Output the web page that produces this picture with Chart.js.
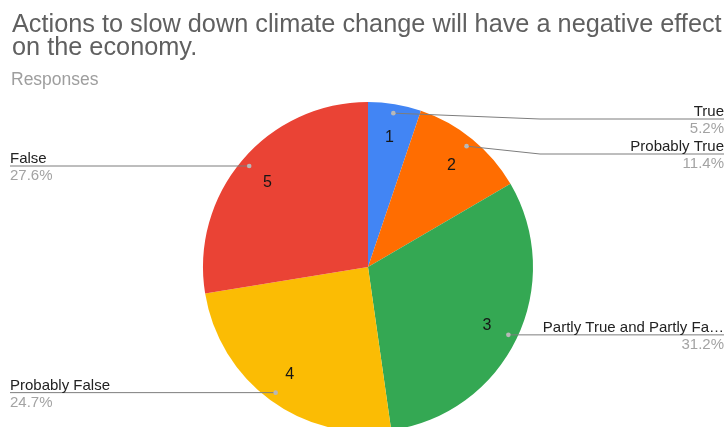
<!DOCTYPE html>
<html>
<head>
<meta charset="utf-8">
<title>Actions to slow down climate change will have a negative effect on the economy.</title>
<script src="https://cdn.jsdelivr.net/npm/chart.js@4.4.1/dist/chart.umd.min.js"></script>
<style>
  html, body { margin: 0; padding: 0; background: #ffffff; overflow: hidden; }
  #wrap { position: relative; width: 728px; height: 440px; }
</style>
</head>
<body>
<div id="wrap"><canvas id="pie" width="728" height="440"></canvas></div>
<script>
// Survey answers, in slice order (clockwise from 12 o'clock)
const categories = ['True', 'Probably True', 'Partly True and Partly False', 'Probably False', 'False'];
const sliceNumbers = ['1', '2', '3', '4', '5'];
const responses = [5.2, 11.4, 31.2, 24.7, 27.6];
const sliceColors = ['#4285f4', '#ff6d01', '#34a853', '#fbbc04', '#ea4335'];
const titleLines = ['Actions to slow down climate change will have a negative effect', 'on the economy.'];
const subtitleText = 'Responses';

const FONT = '"Liberation Sans", Arial, Helvetica, sans-serif';

// Fits a label into a given width, adding an ellipsis when it is too long
function fitText(ctx, text, maxWidth) {
  if (ctx.measureText(text).width <= maxWidth) return text;
  let s = text;
  while (s.length > 1 && ctx.measureText(s + '\u2026').width > maxWidth) s = s.slice(0, -1);
  return s.trimEnd() + '\u2026';
}

const annotatePie = {
  id: 'annotatePie',
  afterDraw(chart) {
    const ctx = chart.ctx;
    const meta = chart.getDatasetMeta(0);
    const area = chart.chartArea;
    const W = chart.width;

    // Heading
    ctx.save();
    ctx.textBaseline = 'alphabetic';
    ctx.textAlign = 'left';
    ctx.fillStyle = '#606060';
    ctx.font = '25.3px ' + FONT;
    ctx.fillText(titleLines[0], 12, 32);
    ctx.fillText(titleLines[1], 12, 55);
    ctx.fillStyle = '#9e9e9e';
    ctx.font = '17.5px ' + FONT;
    ctx.fillText(subtitleText, 11, 85);
    ctx.restore();

    // Slice numbers, anchor dots and callouts
    const items = meta.data.map((arc, i) => {
      const p = arc.getProps(['x', 'y', 'startAngle', 'endAngle', 'outerRadius'], true);
      const mid = (p.startAngle + p.endAngle) / 2;
      return {
        i, cx: p.x, cy: p.y, R: p.outerRadius, mid,
        numX: p.x + Math.cos(mid) * p.outerRadius * 0.8,
        numY: p.y + Math.sin(mid) * p.outerRadius * 0.8,
        dotX: p.x + Math.cos(mid) * p.outerRadius * 0.945,
        dotY: p.y + Math.sin(mid) * p.outerRadius * 0.945,
        right: Math.cos(mid) >= 0
      };
    });

    ctx.save();
    ctx.font = '16px ' + FONT;
    ctx.fillStyle = '#161616';
    ctx.textAlign = 'center';
    ctx.textBaseline = 'middle';
    items.forEach(it => ctx.fillText(sliceNumbers[it.i], it.numX, it.numY + 1));
    ctx.restore();

    const blockGap = 35;
    const minLine = area.top + 17;
    const textRight = W - 4;
    const textLeft = 10;

    [true, false].forEach(side => {
      const group = items.filter(it => it.right === side).sort((a, b) => a.dotY - b.dotY);
      let prev = -Infinity;
      group.forEach(it => {
        const lineY = Math.max(it.dotY, minLine, prev + blockGap);
        prev = lineY;
        const kneeX = side ? it.cx + it.R + 7 : it.cx - it.R - 7;
        const endX = side ? textRight : textLeft;

        ctx.save();
        ctx.strokeStyle = '#7d7d7d';
        ctx.lineWidth = 1;
        ctx.beginPath();
        ctx.moveTo(it.dotX, it.dotY);
        ctx.lineTo(kneeX, lineY);
        ctx.lineTo(endX, lineY);
        ctx.stroke();

        ctx.fillStyle = '#b8b8b8';
        ctx.beginPath();
        ctx.arc(it.dotX, it.dotY, 2.3, 0, Math.PI * 2);
        ctx.fill();

        ctx.textAlign = side ? 'right' : 'left';
        ctx.textBaseline = 'alphabetic';
        ctx.font = '15px ' + FONT;
        ctx.fillStyle = '#222222';
        const avail = side ? textRight - kneeX : kneeX - textLeft;
        ctx.fillText(fitText(ctx, categories[it.i], avail), endX, lineY - 3);
        ctx.fillStyle = '#a3a3a3';
        ctx.fillText(responses[it.i].toFixed(1) + '%', endX, lineY + 14);
        ctx.restore();
      });
    });
  }
};

new Chart(document.getElementById('pie'), {
  type: 'pie',
  data: {
    labels: categories,
    datasets: [{
      data: responses,
      backgroundColor: sliceColors,
      borderWidth: 0,
      hoverOffset: 0
    }]
  },
  options: {
    responsive: false,
    animation: false,
    events: [],
    layout: { padding: { top: 102, bottom: 8, left: 203, right: 195 } },
    plugins: {
      legend: { display: false },
      tooltip: { enabled: false },
      title: { display: false }
    }
  },
  plugins: [annotatePie]
});
</script>
</body>
</html>
